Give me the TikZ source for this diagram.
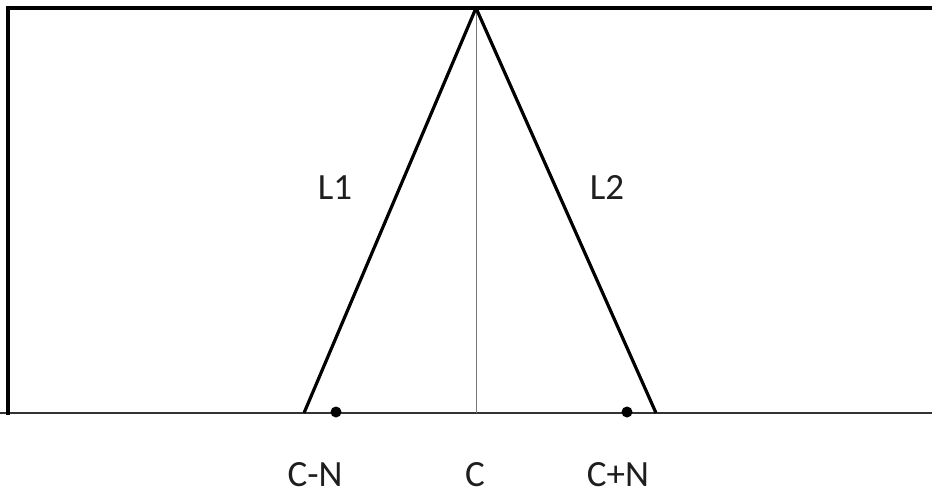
\documentclass[tikz,border=0pt]{standalone}
\usepackage{fontspec}
\setmainfont{Carlito}
\usetikzlibrary{positioning}
\definecolor{ink}{HTML}{1E1E1E}
\definecolor{axis}{HTML}{333333}
\definecolor{midline}{HTML}{777777}
\tikzset{
  leg/.style={line width=3.2pt, black},
  frame/.style={line width=3.2pt, black},
  base/.style={line width=2.2pt, axis},
  lab/.style={font=\fontsize{37}{42}\selectfont, text=ink, inner sep=0pt, anchor=base},
  dot/.style={circle, fill=black, inner sep=0pt, minimum size=11pt},
}
\begin{document}
\begin{tikzpicture}[x=1pt,y=-1pt]
  \useasboundingbox (0,0) rectangle (932,495);

  % --- frame ---
  \coordinate (TL) at (8,8);
  \coordinate (TR) at (932,8);
  \coordinate (BL) at (8,413);
  \coordinate (B0) at (0,413);
  \coordinate (BR) at (932,413);
  \draw[base] (B0) -- (BR);
  \draw[frame, line cap=rect] (TR) -- (TL) -- (BL);

  % --- triangle ---
  \coordinate (apex) at (476,8);
  \coordinate (foot1) at (304,413);
  \coordinate (foot2) at (656,413);
  \coordinate (mid) at (476,413);
  \draw[midline, line width=1pt] (apex) -- (mid);
  \draw[leg] (apex) -- (foot1);
  \draw[leg] (apex) -- (foot2);

  \node[dot] (cn) at (336,412) {};
  \node[dot] (cp) at (627,412) {};

  % --- labels ---
  \node[lab] (l1) at (335,199) {L1};
  \node[lab] (l2) at (607,199) {L2};
  \node[lab] (lcn) at (315,486) {C-N};
  \node[lab] (lc) at (475,486) {C};
  \node[lab] (lcp) at (618,486) {C+N};
\end{tikzpicture}
\end{document}
